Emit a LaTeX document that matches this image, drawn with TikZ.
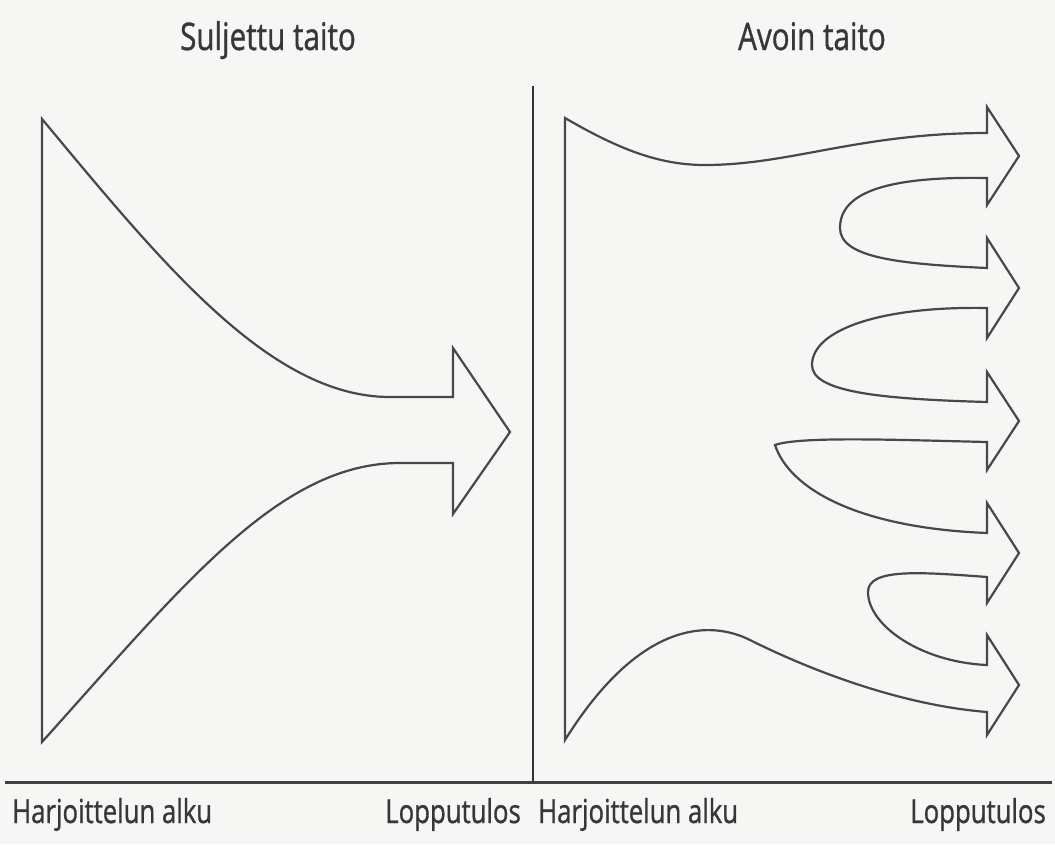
\documentclass[tikz,border=0pt]{standalone}
\usepackage{fontspec}
\setmainfont{Open Sans}[FakeStretch=0.78,FakeBold=0.9]
\definecolor{bg}{RGB}{246,246,244}
\definecolor{ink}{RGB}{72,72,72}
\definecolor{txt}{RGB}{55,55,55}
\begin{document}
\begin{tikzpicture}[x=1pt,y=-1pt,
  shape line/.style={draw=ink,line width=2.2pt,line join=miter},
  lbl/.style={text=txt,font=\fontsize{33}{38}\selectfont,inner sep=0pt},
  ttl/.style={text=txt,font=\fontsize{38}{44}\selectfont,inner sep=0pt}]
\fill[bg] (0,0) rectangle (1055,844);
\useasboundingbox (0,0) rectangle (1055,844);
% titles
\node[ttl,anchor=base] (t1) at (268,50) {Suljettu taito};
\node[ttl,anchor=base] (t2) at (812,50) {Avoin taito};
% axes
\draw[black!80,line width=1.4pt] (533,86) -- (533,782);
\draw[black!75,line width=3pt] (5,782) -- (1052,782);
% bottom labels
\node[lbl,anchor=base west] (b1) at (12,823) {Harjoittelun alku};
\node[lbl,anchor=base east] (b2) at (521,823) {Lopputulos};
\node[lbl,anchor=base west] (b3) at (538,823) {Harjoittelun alku};
\node[lbl,anchor=base east] (b4) at (1046,823) {Lopputulos};
% closed skill
\draw[shape line] (42,119) -- (42,742)
  .. controls (185,583) and (280,463) .. (400,463) -- (453,463)
  -- (453,514) -- (510,432) -- (453,348) -- (453,397) -- (390,397)
  .. controls (270,397) and (162,263) .. (42,119) -- cycle;
% open skill
\draw[shape line] (565,118)
  .. controls (620,150) and (660,165) .. (705,165)
  .. controls (790,165) and (860,133) .. (987,133)
  -- (987,107) -- (1019,156) -- (987,205) -- (987,178)
  .. controls (880,176) and (840,195) .. (840,228)
  .. controls (840,258) and (900,264) .. (987,268)
  -- (987,238) -- (1019,288) -- (987,338) -- (987,308)
  .. controls (880,306) and (812,330) .. (812,365)
  .. controls (812,392) and (880,399) .. (987,402)
  -- (987,372) -- (1019,421) -- (987,470) -- (987,442)
  .. controls (900,440) and (800,436) .. (775,445)
  .. controls (790,490) and (860,528) .. (987,533)
  -- (987,503) -- (1019,553) -- (987,603) -- (987,577)
  .. controls (920,572) and (868,568) .. (868,592)
  .. controls (868,625) and (920,662) .. (987,665)
  -- (987,635) -- (1019,685) -- (987,735) -- (987,712)
  .. controls (900,705) and (810,670) .. (750,640)
  .. controls (710,620) and (640,620) .. (565,740)
  -- cycle;
\end{tikzpicture}
\end{document}
